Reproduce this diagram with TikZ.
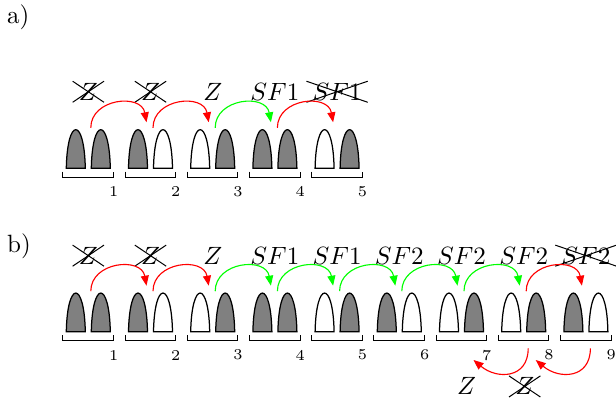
\documentclass[tikz,border=0pt]{standalone}
\usepackage{xcolor}
\usepackage{tikz}
\usetikzlibrary{arrows.meta, shapes.misc}

\tikzset{
  tooth/.style={draw=black, line width=0.5pt},
  jump/.style={-{Triangle[length=4pt, width=3.2pt]}, line width=0.45pt},
  hop/.style={out=90, in=100, looseness=1.35},
  hopdown/.style={out=-90, in=-40, looseness=1.4},
  lbl/.style={anchor=base, inner sep=0pt},
  lblx/.style={cross out, draw, anchor=base, inner xsep=2.3pt, inner ysep=0.6pt},
  numlbl/.style={font=\fontsize{6}{7}\selectfont, inner sep=0pt},
  pics/toothpair/.style 2 args={code={
    \filldraw[tooth, fill=#1] (-22,0) .. controls (-21,51.5) and (-4,51.5) .. (-3,0) -- cycle;
    \filldraw[tooth, fill=#2] (3,0) .. controls (4,51.5) and (21,51.5) .. (22,0) -- cycle;
    \draw[line width=0.4pt] (-25.3,-3.4) -- (-25.3,-9) -- (25.3,-9) -- (25.3,-3.4);
  }},
}

\begin{document}
\begin{tikzpicture}[x=0.4pt, y=0.4pt]
  \useasboundingbox (0,0) rectangle (616,-398);

  % a)
  \node[anchor=base west, inner sep=0pt] (parta) at (6.7,-23.3) {a)};
  \foreach \i in {1,...,5}
    \coordinate (a\i) at ({88.3+62.2*(\i-1)}, -168.3);
  \foreach \l/\r [count=\i] in {gray/gray, gray/white, white/gray, gray/gray, white/gray} {
    \pic at (a\i) {toothpair={\l}{\r}};
    \node[numlbl] (na\i) at ([shift={(25.3,-23.4)}]a\i) {\i};
  }
  \foreach \t/\st [count=\i] in {Z/lblx, Z/lblx, Z/lbl, SF1/lbl, SF1/lblx}
    \node[\st] (ta\i) at ([shift={(0,68)}]a\i) {$\t$};
  \foreach \c [count=\i, evaluate=\i as \j using int(\i+1)] in {red, red, green, red}
    \draw[jump, \c] ([shift={(2.5,40.5)}]a\i) to[hop] ([shift={(-4,46)}]a\j);

  % b)
  \node[anchor=base west, inner sep=0pt] (partb) at (6.7,-252.3) {b)};
  \foreach \i in {1,...,9}
    \coordinate (b\i) at ({88.3+62.2*(\i-1)}, -331.7);
  \foreach \l/\r [count=\i] in {gray/gray, gray/white, white/gray, gray/gray, white/gray,
                                gray/white, white/gray, white/gray, gray/white} {
    \pic at (b\i) {toothpair={\l}{\r}};
    \node[numlbl] (nb\i) at ([shift={(25.3,-23.4)}]b\i) {\i};
  }
  \foreach \t/\st [count=\i] in {Z/lblx, Z/lblx, Z/lbl, SF1/lbl, SF1/lbl,
                                 SF2/lbl, SF2/lbl, SF2/lbl, SF2/lblx}
    \node[\st] (tb\i) at ([shift={(0,67.5)}]b\i) {$\t$};
  \foreach \c [count=\i, evaluate=\i as \j using int(\i+1)] in {red, red, green, green, green, green, green, red}
    \draw[jump, \c] ([shift={(2.5,40.5)}]b\i) to[hop] ([shift={(-4,46)}]b\j);

  % back jumps below row b
  \draw[jump, red] ([shift={(4.5,-16.6)}]b8) to[hopdown] ([shift={(12,-28.3)}]b7);
  \draw[jump, red] ([shift={(4.5,-16.6)}]b9) to[hopdown] ([shift={(12,-28.3)}]b8);
  \node[lbl] (zb7) at ([shift={(5,-63.3)}]b7) {$Z$};
  \node[lblx] (zb8) at ([shift={(1,-63.3)}]b8) {$Z$};
\end{tikzpicture}
\end{document}
